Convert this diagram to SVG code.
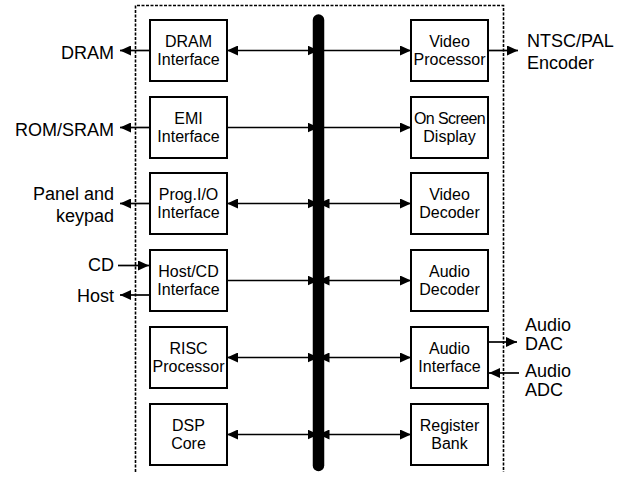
<svg xmlns="http://www.w3.org/2000/svg" width="617" height="477" viewBox="0 0 617 477">
<style>
.box{fill:#fff;stroke:#000;stroke-width:2}
.bt{font-family:"Liberation Sans",Arial,sans-serif;font-size:16px;text-anchor:middle;fill:#000}
.ot{font-family:"Liberation Sans",Arial,sans-serif;font-size:18px;fill:#000}
.l{stroke:#000;stroke-width:1.7;fill:none}
.end{text-anchor:end}
.tight{letter-spacing:-0.6px}
</style>
<defs>
<marker id="ah" markerUnits="userSpaceOnUse" markerWidth="11" markerHeight="10" refX="11" refY="5" orient="auto-start-reverse" viewBox="0 0 11 10">
<path d="M0,0 L11,5 L0,10 z" fill="#000"/>
</marker>
</defs>
<path d="M135.5,472 V5.5 H503.5 V472" fill="none" stroke="#000" stroke-width="1.6" stroke-dasharray="3 1.5"/>
<g id="connectors">
<line class="l" x1="227" y1="50.5" x2="318.5" y2="50.5" marker-start="url(#ah)" marker-end="url(#ah)"/>
<line class="l" x1="227" y1="127.5" x2="318.5" y2="127.5" marker-end="url(#ah)"/>
<line class="l" x1="227" y1="203.5" x2="318.5" y2="203.5" marker-start="url(#ah)" marker-end="url(#ah)"/>
<line class="l" x1="227" y1="280.5" x2="318.5" y2="280.5" marker-end="url(#ah)"/>
<line class="l" x1="227" y1="357.5" x2="318.5" y2="357.5" marker-start="url(#ah)" marker-end="url(#ah)"/>
<line class="l" x1="227" y1="434.5" x2="318.5" y2="434.5" marker-start="url(#ah)" marker-end="url(#ah)"/>
<line class="l" x1="318.5" y1="50.5" x2="411" y2="50.5" marker-end="url(#ah)"/>
<line class="l" x1="318.5" y1="127.5" x2="411" y2="127.5" marker-end="url(#ah)"/>
<line class="l" x1="318.5" y1="203.5" x2="411" y2="203.5" marker-start="url(#ah)" marker-end="url(#ah)"/>
<line class="l" x1="318.5" y1="280.5" x2="411" y2="280.5" marker-start="url(#ah)" marker-end="url(#ah)"/>
<line class="l" x1="318.5" y1="357.5" x2="411" y2="357.5" marker-start="url(#ah)" marker-end="url(#ah)"/>
<line class="l" x1="318.5" y1="434.5" x2="411" y2="434.5" marker-start="url(#ah)" marker-end="url(#ah)"/>
<line class="l" x1="150" y1="50.5" x2="120" y2="50.5" marker-end="url(#ah)"/>
<line class="l" x1="150" y1="127.5" x2="120" y2="127.5" marker-end="url(#ah)"/>
<line class="l" x1="150" y1="203.5" x2="120" y2="203.5" marker-end="url(#ah)"/>
<line class="l" x1="118" y1="265.5" x2="149" y2="265.5" marker-end="url(#ah)"/>
<line class="l" x1="150" y1="295" x2="120" y2="295" marker-end="url(#ah)"/>
<line class="l" x1="488" y1="50.5" x2="518" y2="50.5" marker-end="url(#ah)"/>
<line class="l" x1="488" y1="342" x2="517" y2="342" marker-end="url(#ah)"/>
<line class="l" x1="519" y1="373" x2="489" y2="373" marker-end="url(#ah)"/>
</g>
<line id="bus" x1="318.5" y1="20" x2="318.5" y2="465.5" stroke="#000" stroke-width="11.5" stroke-linecap="round"/>
<g id="dram-if"><rect class="box" x="150" y="20" width="77" height="61"/><text class="bt" x="188.5" y="46.8">DRAM</text><text class="bt" x="188.5" y="65.2">Interface</text></g>
<g id="emi-if"><rect class="box" x="150" y="97" width="77" height="61"/><text class="bt" x="188.5" y="123.8">EMI</text><text class="bt" x="188.5" y="142.2">Interface</text></g>
<g id="prog-io"><rect class="box" x="150" y="173" width="77" height="61"/><text class="bt" x="188.5" y="199.8">Prog.I/O</text><text class="bt" x="188.5" y="218.2">Interface</text></g>
<g id="host-cd"><rect class="box" x="150" y="250" width="77" height="61"/><text class="bt" x="188.5" y="276.8">Host/CD</text><text class="bt" x="188.5" y="295.2">Interface</text></g>
<g id="risc"><rect class="box" x="150" y="327" width="77" height="61"/><text class="bt" x="188.5" y="353.8">RISC</text><text class="bt" x="188.5" y="372.2">Processor</text></g>
<g id="dsp"><rect class="box" x="150" y="404" width="77" height="61"/><text class="bt" x="188.5" y="430.8">DSP</text><text class="bt" x="188.5" y="449.2">Core</text></g>
<g id="video-proc"><rect class="box" x="411" y="20" width="77" height="61"/><text class="bt" x="449.5" y="46.8">Video</text><text class="bt" x="449.5" y="65.2">Processor</text></g>
<g id="osd"><rect class="box" x="411" y="97" width="77" height="61"/><text class="bt tight" x="449.5" y="123.8">On Screen</text><text class="bt" x="449.5" y="142.2">Display</text></g>
<g id="video-dec"><rect class="box" x="411" y="173" width="77" height="61"/><text class="bt" x="449.5" y="199.8">Video</text><text class="bt" x="449.5" y="218.2">Decoder</text></g>
<g id="audio-dec"><rect class="box" x="411" y="250" width="77" height="61"/><text class="bt" x="449.5" y="276.8">Audio</text><text class="bt" x="449.5" y="295.2">Decoder</text></g>
<g id="audio-if"><rect class="box" x="411" y="327" width="77" height="61"/><text class="bt" x="449.5" y="353.8">Audio</text><text class="bt" x="449.5" y="372.2">Interface</text></g>
<g id="reg-bank"><rect class="box" x="411" y="404" width="77" height="61"/><text class="bt" x="449.5" y="430.8">Register</text><text class="bt" x="449.5" y="449.2">Bank</text></g>
<g id="ext-dram"><text class="ot end" x="114" y="59">DRAM</text></g>
<g id="ext-rom"><text class="ot end" x="114" y="136">ROM/SRAM</text></g>
<g id="ext-panel"><text class="ot end" x="114" y="199.5">Panel and</text><text class="ot end" x="114" y="221.5">keypad</text></g>
<g id="ext-cd"><text class="ot end" x="114" y="270.5">CD</text></g>
<g id="ext-host"><text class="ot end" x="114" y="301.5">Host</text></g>
<g id="ext-ntsc"><text class="ot" x="527" y="47">NTSC/PAL</text><text class="ot" x="527" y="68.5">Encoder</text></g>
<g id="ext-dac"><text class="ot" x="525" y="331">Audio</text><text class="ot" x="525" y="349.5">DAC</text></g>
<g id="ext-adc"><text class="ot" x="525" y="377">Audio</text><text class="ot" x="525" y="395.5">ADC</text></g>
</svg>
